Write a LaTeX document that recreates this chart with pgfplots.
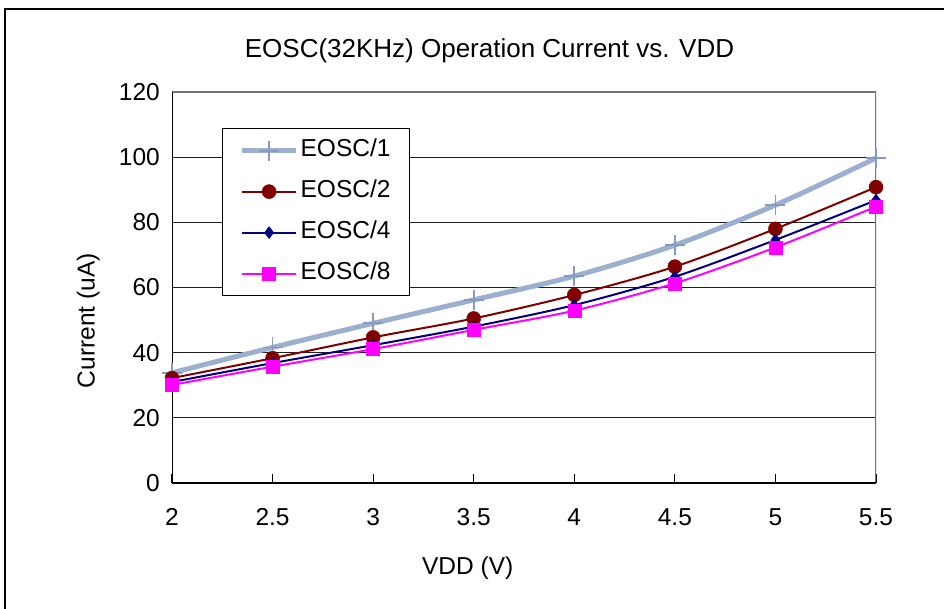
\documentclass[border=0pt]{standalone}
\usepackage{fontspec}
\setmainfont{Liberation Sans}
\usepackage{pgfplots}
\pgfplotsset{compat=1.18}
\definecolor{cA}{RGB}{155,175,207}
\definecolor{cAm}{RGB}{135,155,190}
\definecolor{cB}{RGB}{128,0,0}
\definecolor{cC}{RGB}{0,0,128}
\definecolor{cD}{RGB}{255,0,255}
\definecolor{gridc}{RGB}{30,30,30}
\pgfplotsset{mylegimg/.style={legend image code/.code={\draw[mark repeat=2,mark phase=2,##1] plot coordinates {(0pt,0pt) (27pt,0pt) (54pt,0pt)};}}}
\begin{document}
\fontsize{24}{28}\selectfont
\begin{tikzpicture}
\useasboundingbox (0pt,0pt) rectangle (944pt,608pt);
\draw[line width=1.5pt,black] (5pt,-5pt) -- (5pt,599pt) -- (950pt,599pt);
\begin{axis}[
  at={(172pt,125pt)}, anchor=south west,
  scale only axis, width=704pt, height=391pt,
  xmin=2, xmax=5.5, ymin=0, ymax=120,
  xtick={2,2.5,3,3.5,4,4.5,5,5.5},
  xticklabels={2,2.5,3,3.5,4,4.5,5,5.5},
  ytick={0,20,40,60,80,100,120},
  yticklabels={0,20,40,60,80,100,120},
  xtick pos=left, tick align=inside,
  major tick length=9pt,
  xtick style={black, line width=1.2pt},
  ytick style={draw=none},
  axis line style={draw=none},
  ymajorgrids, grid style={gridc, line width=1.3pt},
  ticklabel style={font=\fontsize{24.5}{28}\selectfont},
  xticklabel style={yshift=-17pt},
  yticklabel style={xshift=-4pt},
  title={EOSC(32KHz) Operation Current vs. VDD},
  title style={font=\fontsize{26}{30}\selectfont, at={(axis description cs:0.451,1.091)}, anchor=center},
  xlabel={VDD (V)},
  xlabel style={font=\fontsize{24.5}{28}\selectfont, at={(axis description cs:0.42,-0.218)}, anchor=center},
  ylabel={Current (uA)},
  ylabel style={font=\fontsize{24.5}{28}\selectfont, at={(axis description cs:-0.119,0.415)}, anchor=center, rotate=0},
  legend cell align=left,
  legend style={at={(0.071,0.908)}, anchor=north west, draw=black, line width=1.3pt,
    font=\fontsize{24.5}{28}\selectfont, row sep=15pt, inner xsep=17pt, inner ysep=9pt,
    nodes={inner sep=2pt, text height=17pt, text depth=5pt},
    /tikz/every even column/.style={column sep=2pt}},
  mylegimg,
]
\draw[gray!90!black, line width=1.5pt] (rel axis cs:0,1) -- (rel axis cs:1,1) -- (rel axis cs:1,0);
\draw[black, line width=1.5pt] (rel axis cs:0,1) -- (rel axis cs:0,0) -- (rel axis cs:1,0);
\addplot[smooth, color=cA, line width=5pt, mark=+, mark size=10pt, mark options={color=cAm, line width=1.8pt}]
 coordinates {(2,33.8) (2.5,41.6) (3,49.0) (3.5,56.2) (4,63.5) (4.5,73.0) (5,85.3) (5.5,99.7)};
\addlegendentry{EOSC/1}
\addplot[smooth, color=cB, line width=2pt, mark=*, mark size=7pt, mark options={fill=cB, draw=cB, line width=0.5pt}]
 coordinates {(2,32.2) (2.5,38.3) (3,44.7) (3.5,50.5) (4,57.7) (4.5,66.4) (5,78.0) (5.5,90.8)};
\addlegendentry{EOSC/2}
\addplot[smooth, color=cC, line width=2pt, mark=diamond*, mark size=6pt, mark options={fill=cC, draw=cC, line width=0.5pt}]
 coordinates {(2,31.0) (2.5,36.8) (3,42.3) (3.5,48.0) (4,54.6) (4.5,63.3) (5,74.6) (5.5,86.8)};
\addlegendentry{EOSC/4}
\addplot[smooth, color=cD, line width=2pt, mark=square*, mark size=6.5pt, mark options={fill=cD, draw=cD, line width=0.5pt}]
 coordinates {(2,30.1) (2.5,35.7) (3,41.1) (3.5,47.0) (4,52.9) (4.5,61.3) (5,72.3) (5.5,84.8)};
\addlegendentry{EOSC/8}
\end{axis}
\end{tikzpicture}
\end{document}
